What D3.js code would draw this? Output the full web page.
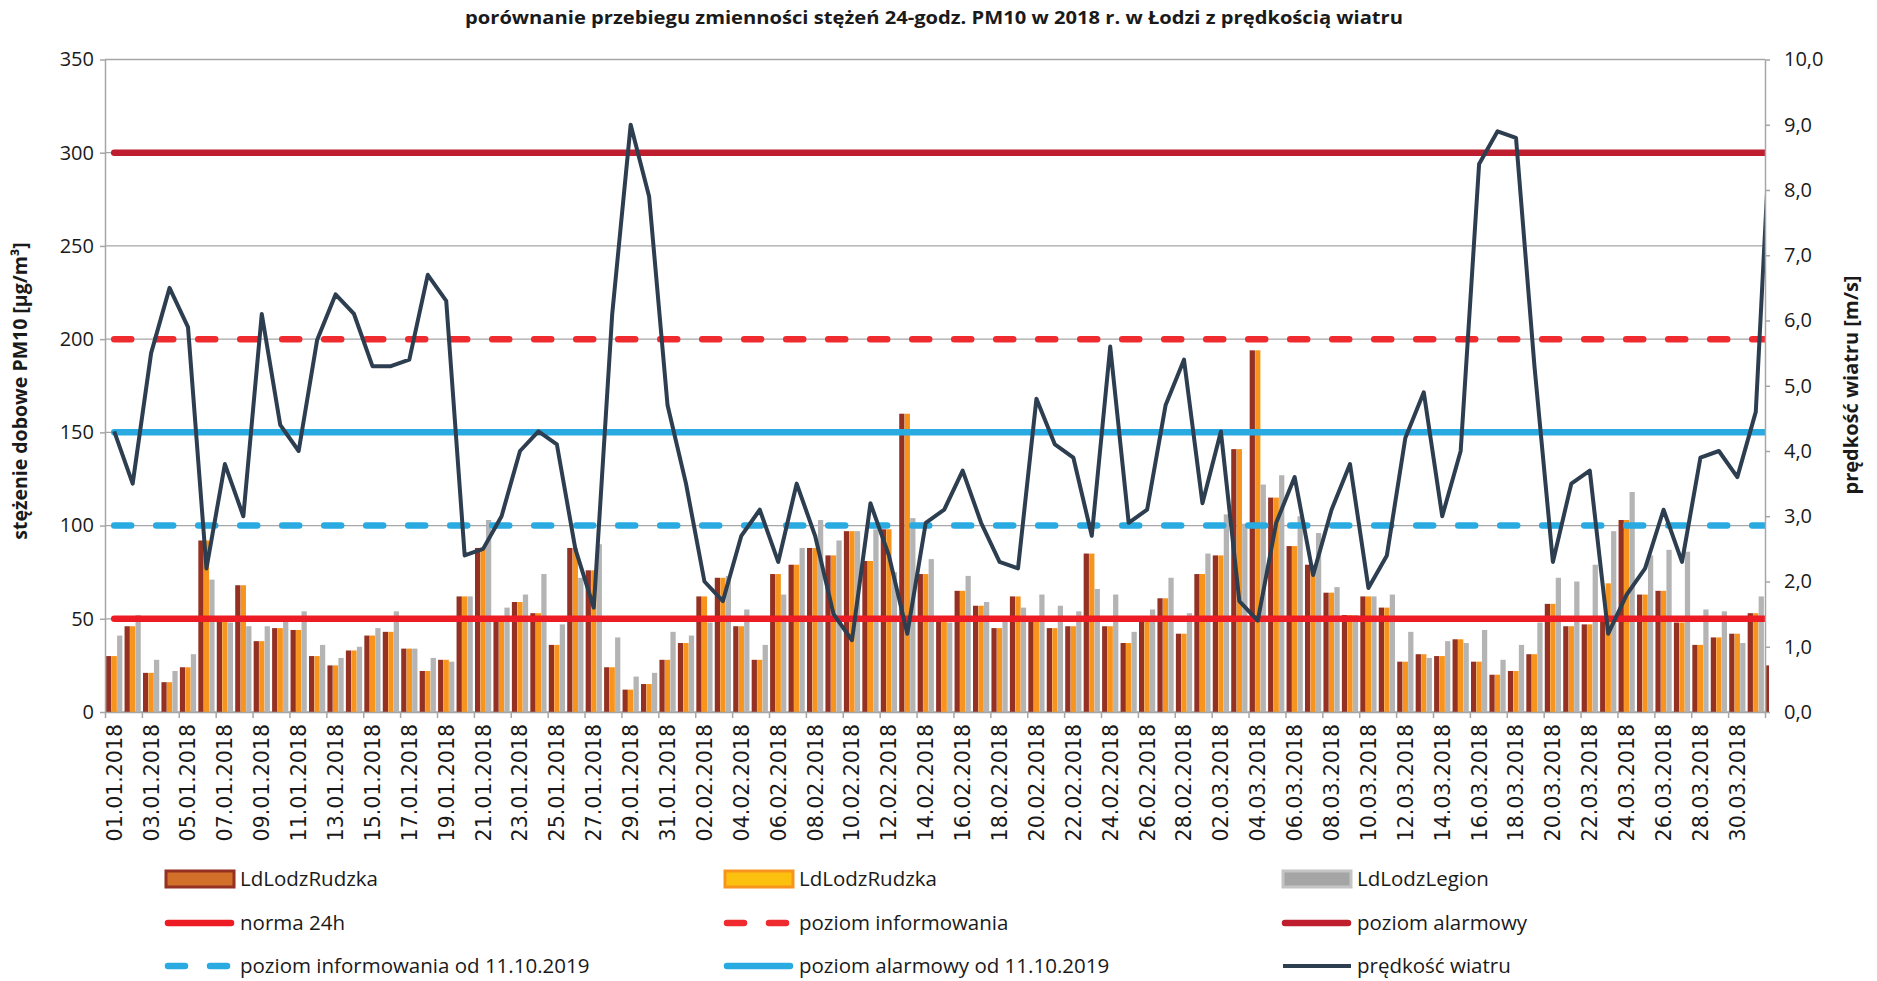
<!DOCTYPE html>
<html>
<head>
<meta charset="utf-8">
<script src="https://cdn.jsdelivr.net/npm/d3@7"></script>
<style>
  body { margin: 0; background: #fff; }
  svg { display: block; }
  text { font-family: 'Open Sans', sans-serif; fill: #1a1a1a; }
</style>
</head>
<body>
<svg id="chart" width="1877" height="981"></svg>
<script>
// categories: 01.01.2018 .. 01.04.2018 (the last one sits just past the plot edge, like in the source)
const fmt = d3.timeFormat('%d.%m.%Y');
const days = d3.timeDays(new Date(2018, 0, 1), new Date(2018, 3, 2)).map(fmt);

// PM10 24h [µg/m3]
const rudzka = [30, 46, 21, 16, 24, 92, 50, 68, 38, 45, 44, 30, 25, 33, 41, 43, 34, 22, 28, 62,
  88, 50, 59, 53, 36, 88, 76, 24, 12, 15, 28, 37, 62, 72, 46, 28, 74, 79, 88, 84,
  97, 81, 98, 160, 74, 49, 65, 57, 45, 62, 51, 45, 46, 85, 46, 37, 51, 61, 42, 74,
  84, 141, 194, 115, 89, 79, 64, 52, 62, 56, 27, 31, 30, 39, 27, 20, 22, 31, 58, 46,
  47, 50, 103, 63, 65, 48, 36, 40, 42, 53, 25];
const rudzka2 = [30, 46, 21, 16, 24, 92, 50, 68, 38, 45, 44, 30, 25, 33, 41, 43, 34, 22, 28, 62,
  88, 50, 59, 53, 36, 88, 76, 24, 12, 15, 28, 37, 62, 72, 46, 28, 74, 79, 88, 84,
  97, 81, 98, 160, 74, 49, 65, 57, 45, 62, 51, 45, 46, 85, 46, 37, 51, 61, 42, 74,
  84, 141, 194, 115, 89, 79, 64, 52, 62, 56, 27, 31, 30, 39, 27, 20, 22, 31, 58, 46,
  47, 69, 103, 63, 65, 48, 36, 40, 42, 53, null];
const legion = [41, 52, 28, 22, 31, 71, 48, 46, 46, 49, 54, 36, 29, 35, 45, 54, 34, 29, 27, 62,
  103, 56, 63, 74, 47, 72, 90, 40, 19, 21, 43, 41, 48, 73, 55, 36, 63, 88, 103, 92,
  97, 98, 75, 104, 82, 48, 73, 59, 49, 56, 63, 57, 54, 66, 63, 43, 55, 72, 53, 85,
  106, 101, 122, 127, 105, 96, 67, 52, 62, 63, 43, 29, 38, 37, 44, 28, 36, 48, 72, 70,
  79, 97, 118, 84, 87, 86, 55, 54, 37, 62, null];
// wind speed [m/s]
const wind = [4.3, 3.5, 5.5, 6.5, 5.9, 2.2, 3.8, 3.0, 6.1, 4.4, 4.0, 5.7, 6.4, 6.1, 5.3, 5.3, 5.4, 6.7, 6.3, 2.4,
  2.5, 3.0, 4.0, 4.3, 4.1, 2.5, 1.6, 6.1, 9.0, 7.9, 4.7, 3.5, 2.0, 1.7, 2.7, 3.1, 2.3, 3.5, 2.7, 1.5,
  1.1, 3.2, 2.4, 1.2, 2.9, 3.1, 3.7, 2.9, 2.3, 2.2, 4.8, 4.1, 3.9, 2.7, 5.6, 2.9, 3.1, 4.7, 5.4, 3.2,
  4.3, 1.7, 1.4, 2.9, 3.6, 2.1, 3.1, 3.8, 1.9, 2.4, 4.2, 4.9, 3.0, 4.0, 8.4, 8.9, 8.8, 5.3, 2.3, 3.5,
  3.7, 1.2, 1.8, 2.2, 3.1, 2.3, 3.9, 4.0, 3.6, 4.6, 10.1];

const pmTicks = [0, 50, 100, 150, 200, 250, 300, 350];
const windTicks = [0, 1, 2, 3, 4, 5, 6, 7, 8, 9, 10];

const seriesNames = ['LdLodzRudzka', 'LdLodzRudzka', 'LdLodzLegion'];
const limitNames = ['norma 24h', 'poziom informowania', 'poziom alarmowy',
  'poziom informowania od 11.10.2019', 'poziom alarmowy od 11.10.2019'];
const limitValues = [50, 200, 300, 100, 150];

const barColors = ['#943122', '#f7941d', '#b4b4b4'];
const limitColors = ['#ed1c24', '#ef2b2f', '#be1e2d', '#29abe2', '#29abe2'];
const limitDashed = [false, true, false, true, false];
const windColor = '#2d3e50';

const W = 1877, H = 981;
const x0 = 105, x1 = 1765, yTop = 59.5, yBot = 712;
const step = (x1 - x0) / 90;

const svg = d3.select('#chart');

const x = d3.scaleBand()
  .domain(days)
  .range([x0, x0 + step * days.length])
  .paddingInner(0.12)
  .paddingOuter(0.06);
const sub = d3.scaleBand().domain([0, 1, 2]).range([0, x.bandwidth()]).paddingInner(0.04);
const xi = d3.scaleLinear().domain([0, 90]).range([x0, x1]);
const y = d3.scaleLinear().domain([0, 350]).range([yBot, yTop]);
const yw = d3.scaleLinear().domain([0, 10]).range([yBot, yTop]);
const cx = i => x(days[i]) + x.bandwidth() / 2;

const defs = svg.append('defs');
defs.append('clipPath').attr('id', 'clipBars')
  .append('rect').attr('x', x0).attr('y', 0).attr('width', x1 - x0 + 4).attr('height', H);
defs.append('clipPath').attr('id', 'clipLines')
  .append('rect').attr('x', x0).attr('y', 0).attr('width', x1 - x0 + 1).attr('height', H);

// title
svg.append('text')
  .attr('x', 934).attr('y', 24)
  .attr('text-anchor', 'middle')
  .attr('textLength', 938).attr('lengthAdjust', 'spacingAndGlyphs')
  .style('font-weight', 700).style('font-size', '17.5px')
  .text('porównanie przebiegu zmienności stężeń 24-godz. PM10 w 2018 r. w Łodzi z prędkością wiatru');

// grid
svg.append('g')
  .selectAll('line')
  .data(pmTicks)
  .join('line')
  .attr('x1', x0).attr('x2', x1)
  .attr('y1', d => y(d)).attr('y2', d => y(d))
  .attr('stroke', '#a6a6a6').attr('stroke-width', 1.3);

// bars
const barsG = svg.append('g').attr('clip-path', 'url(#clipBars)');
[rudzka, rudzka2, legion].forEach((vals, k) => {
  barsG.append('g')
    .selectAll('rect')
    .data(vals.map((v, i) => ({ v, i })).filter(d => d.v != null))
    .join('rect')
    .attr('x', d => x(days[d.i]) + sub(k))
    .attr('width', sub.bandwidth())
    .attr('y', d => y(d.v))
    .attr('height', d => yBot - y(d.v))
    .attr('fill', barColors[k]);
});

// limit lines
const linesG = svg.append('g').attr('clip-path', 'url(#clipLines)');
limitValues.forEach((v, k) => {
  linesG.append('line')
    .attr('x1', cx(0)).attr('x2', cx(days.length - 1))
    .attr('y1', y(v)).attr('y2', y(v))
    .attr('stroke', limitColors[k])
    .attr('stroke-width', 6.5)
    .attr('stroke-linecap', 'round')
    .attr('stroke-dasharray', limitDashed[k] ? '17 25' : null);
});

// wind line
const windLine = d3.line().x((d, i) => cx(i)).y(d => yw(d));
linesG.append('path')
  .datum(wind)
  .attr('d', windLine)
  .attr('fill', 'none')
  .attr('stroke', windColor)
  .attr('stroke-width', 4)
  .attr('stroke-linejoin', 'round');

// axes
const styleAxis = g => {
  g.selectAll('.domain, line').attr('stroke', '#a6a6a6').attr('stroke-width', 1.5);
  g.selectAll('text').style('font-family', "'Open Sans', sans-serif").style('font-size', '20px').attr('fill', '#1a1a1a');
};
svg.append('g')
  .attr('transform', `translate(${x0},0)`)
  .call(d3.axisLeft(y).tickValues(pmTicks).tickSize(5).tickSizeOuter(0).tickPadding(6))
  .call(styleAxis);
svg.append('g')
  .attr('transform', `translate(${x1},0)`)
  .call(d3.axisRight(yw).tickValues(windTicks).tickSize(5).tickSizeOuter(0).tickPadding(14)
    .tickFormat(d => d.toFixed(1).replace('.', ',')))
  .call(styleAxis);
svg.append('g')
  .attr('transform', `translate(0,${yBot})`)
  .call(d3.axisBottom(xi).tickValues(d3.range(0, 91, 2)).tickSize(6).tickSizeOuter(0).tickFormat(''))
  .call(styleAxis);
const xl = svg.append('g')
  .attr('transform', `translate(0,${yBot})`)
  .call(d3.axisBottom(x).tickValues(days.filter((d, i) => i % 2 === 0 && i < 90)).tickSize(0));
xl.select('.domain').remove();
xl.selectAll('text')
  .attr('transform', 'rotate(-90)')
  .attr('text-anchor', 'end')
  .attr('x', -12).attr('y', 0).attr('dy', '0.36em')
  .style('font-family', "'DejaVu Sans', sans-serif").style('font-size', '20.5px').attr('fill', '#1a1a1a');

// axis titles
svg.append('text')
  .attr('transform', 'translate(27,391) rotate(-90)')
  .attr('text-anchor', 'middle')
  .style('font-weight', 700).style('font-size', '19.5px')
  .text('stężenie dobowe PM10 [µg/m³]');
svg.append('text')
  .attr('transform', 'translate(1858,385) rotate(-90)')
  .attr('text-anchor', 'middle')
  .style('font-weight', 700).style('font-size', '20px')
  .text('prędkość wiatru [m/s]');

// legend
const legCols = [164, 723, 1281];
const legRows = [879, 923, 966];
const legend = svg.append('g');
const legendText = (c, r, label) => legend.append('text')
  .attr('x', legCols[c] + 76).attr('y', legRows[r]).attr('dy', '0.35em')
  .style('font-size', '20.5px').text(label);

const swFill = ['#d2702a', '#fcc10f', '#a5a5a5'];
const swStroke = ['#943122', '#f7941d', '#c4c4c4'];
seriesNames.forEach((n, k) => {
  legend.append('rect')
    .attr('x', legCols[k] + 2).attr('y', legRows[0] - 8)
    .attr('width', 68).attr('height', 16)
    .attr('fill', swFill[k]).attr('stroke', swStroke[k]).attr('stroke-width', 3);
  legendText(k, 0, n);
});
limitNames.forEach((n, k) => {
  const c = k % 3, r = 1 + Math.floor(k / 3);
  legend.append('line')
    .attr('x1', legCols[c] + 4).attr('x2', legCols[c] + 67)
    .attr('y1', legRows[r]).attr('y2', legRows[r])
    .attr('stroke', limitColors[k]).attr('stroke-width', 6.5)
    .attr('stroke-linecap', 'round')
    .attr('stroke-dasharray', limitDashed[k] ? '17 25' : null);
  legendText(c, r, n);
});
legend.append('line')
  .attr('x1', legCols[2] + 2).attr('x2', legCols[2] + 70)
  .attr('y1', legRows[2]).attr('y2', legRows[2])
  .attr('stroke', windColor).attr('stroke-width', 4);
legendText(2, 2, 'prędkość wiatru');
</script>
</body>
</html>
